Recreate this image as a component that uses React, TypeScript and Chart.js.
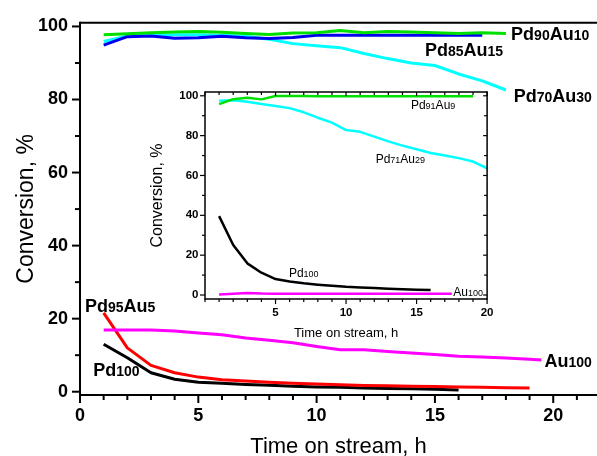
import { useEffect, useRef } from "react";
import { Chart, registerables } from "chart.js";

Chart.register(...registerables);

const FONT = "Arial, 'Liberation Sans', Helvetica, sans-serif";

const GREEN = "#00e000";
const BLUE = "#0000ee";
const CYAN = "#00ffff";
const RED = "#ff0000";
const MAGENTA = "#ff00ff";
const BLACK = "#000000";

// ---- main panel: conversion (%) vs time on stream (h) ----
const mainXTicks = [0, 5, 10, 15, 20];
const mainYTicks = [0, 20, 40, 60, 80, 100];

const pd90Au10Hours = [1, 2, 3, 4, 5, 6, 7, 8, 9, 10, 11, 12, 13, 14, 15, 16, 17, 18];
const pd90Au10Conv = [97.7, 98.0, 98.3, 98.5, 98.6, 98.4, 98.1, 97.8, 98.2, 98.3, 98.9, 98.3, 98.6, 98.5, 98.3, 98.1, 98.3, 98.1];

const pd85Au15Hours = [1, 2, 3, 4, 5, 6, 7, 8, 9, 10, 11, 12, 13, 14, 15, 16, 17];
const pd85Au15Conv = [94.9, 97.2, 97.4, 96.8, 96.9, 97.3, 96.9, 96.7, 97.0, 97.6, 97.6, 97.6, 97.6, 97.6, 97.6, 97.6, 97.6];

const pd70Au30Hours = [1, 2, 3, 4, 5, 6, 7, 8, 9, 10, 11, 12, 13, 14, 15, 16, 17, 18];
const pd70Au30Conv = [95.9, 97.4, 97.6, 97.7, 97.7, 97.6, 97.3, 96.5, 95.3, 94.7, 94.2, 92.6, 91.2, 90.0, 89.3, 87.0, 85.1, 82.6];

const pd95Au5Hours = [1, 2, 3, 4, 5, 6, 7, 8, 9, 10, 11, 12, 13, 14, 15, 16, 17, 18, 19];
const pd95Au5Conv = [21.6, 12.0, 7.2, 5.2, 4.0, 3.3, 2.9, 2.6, 2.3, 2.1, 1.9, 1.7, 1.6, 1.5, 1.4, 1.3, 1.2, 1.1, 1.0];

const pd100Hours = [1, 2, 3, 4, 5, 6, 7, 8, 9, 10, 11, 12, 13, 14, 15, 16];
const pd100Conv = [13.0, 9.3, 5.2, 3.4, 2.6, 2.3, 2.0, 1.8, 1.5, 1.3, 1.2, 1.0, 0.9, 0.8, 0.7, 0.5];

const au100Hours = [1, 2, 3, 4, 5, 6, 7, 8, 9, 10, 11, 12, 13, 14, 15, 16, 17, 18, 19, 19.5];
const au100Conv = [16.9, 16.9, 16.9, 16.6, 16.1, 15.6, 14.7, 14.1, 13.4, 12.4, 11.5, 11.5, 11.0, 10.6, 10.2, 9.7, 9.5, 9.2, 8.9, 8.7];

// ---- inset panel ----
const insetXTicks = [5, 10, 15, 20];
const insetYTicks = [0, 20, 40, 60, 80, 100];

const pd91Au9Hours = [1, 2, 3, 4, 5, 6, 7, 8, 9, 10, 11, 12, 13, 14, 15, 16, 17, 18, 19];
const pd91Au9Conv = [95.8, 98.3, 99.0, 98.2, 99.9, 99.9, 99.9, 99.8, 99.8, 99.8, 99.8, 99.8, 99.8, 99.8, 99.8, 99.8, 99.8, 99.8, 99.8];

const pd71Au29Hours = [1, 2, 3, 4, 5, 6, 7, 8, 9, 10, 11, 12, 13, 14, 15, 16, 17, 18, 19, 20];
const pd71Au29Conv = [97.5, 97.8, 97.0, 95.9, 94.9, 93.8, 91.7, 89.0, 86.5, 82.8, 81.9, 79.5, 77.1, 75.0, 73.2, 71.3, 70.0, 68.7, 67.0, 63.6];

const insetPd100Hours = [1, 2, 3, 4, 5, 6, 7, 8, 9, 10, 11, 12, 13, 14, 15, 16];
const insetPd100Conv = [39.6, 25.1, 15.9, 11.2, 8.0, 6.8, 5.9, 5.2, 4.6, 4.1, 3.8, 3.5, 3.2, 2.9, 2.7, 2.5];

const insetAu100Hours = [1, 2, 3, 4, 5, 6, 7, 8, 9, 10, 11, 12, 13, 14, 15, 16, 17, 17.5];
const insetAu100Conv = [0.3, 0.6, 1.0, 0.7, 0.6, 0.6, 0.6, 0.6, 0.6, 0.6, 0.6, 0.6, 0.6, 0.6, 0.6, 0.6, 0.6, 0.6];

type Series = { label: string; color: string; hours: number[]; values: number[] };

const mainSeries: Series[] = [
  { label: "Pd90Au10", color: GREEN, hours: pd90Au10Hours, values: pd90Au10Conv },
  { label: "Pd85Au15", color: BLUE, hours: pd85Au15Hours, values: pd85Au15Conv },
  { label: "Pd70Au30", color: CYAN, hours: pd70Au30Hours, values: pd70Au30Conv },
  { label: "Au100", color: MAGENTA, hours: au100Hours, values: au100Conv },
  { label: "Pd95Au5", color: RED, hours: pd95Au5Hours, values: pd95Au5Conv },
  { label: "Pd100", color: BLACK, hours: pd100Hours, values: pd100Conv },
];

const insetSeries: Series[] = [
  { label: "Pd91Au9", color: GREEN, hours: pd91Au9Hours, values: pd91Au9Conv },
  { label: "Pd71Au29", color: CYAN, hours: pd71Au29Hours, values: pd71Au29Conv },
  { label: "Au100", color: MAGENTA, hours: insetAu100Hours, values: insetAu100Conv },
  { label: "Pd100", color: BLACK, hours: insetPd100Hours, values: insetPd100Conv },
];

// Series name annotations, anchored in data units (left edge, text baseline)
const mainNotes = [
  { text: "Pd90Au10", x: 18.22, y: 96.2 },
  { text: "Pd85Au15", x: 14.58, y: 91.8 },
  { text: "Pd70Au30", x: 18.33, y: 79.3 },
  { text: "Pd95Au5", x: 0.21, y: 21.9 },
  { text: "Pd100", x: 0.56, y: 4.2 },
  { text: "Au100", x: 19.63, y: 6.9 },
];

const insetNotes = [
  { text: "Pd91Au9", x: 14.6, y: 93.2 },
  { text: "Pd71Au29", x: 12.1, y: 66.4 },
  { text: "Pd100", x: 5.95, y: 9.2 },
  { text: "Au100", x: 17.6, y: -0.5 },
];

const toPoints = (hours: number[], values: number[]) =>
  hours.map((h, i) => ({ x: h, y: values[i] }));

// Axis frame plus major / minor tick marks
const framePlugin = {
  id: "frame",
  afterDraw(chart: any, _args: any, o: any) {
    const { ctx, chartArea } = chart;
    const { left, right, top, bottom } = chartArea;
    const xs = chart.scales.x;
    const ys = chart.scales.y;
    ctx.save();
    ctx.strokeStyle = "#000";
    ctx.lineCap = "butt";

    ctx.lineWidth = o.tickWidth;
    const seg = (x1: number, y1: number, x2: number, y2: number) => {
      ctx.beginPath();
      ctx.moveTo(x1, y1);
      ctx.lineTo(x2, y2);
      ctx.stroke();
    };
    const xMajor: number[] = o.xMajor;
    const yMajor: number[] = o.yMajor;
    for (let v = Math.ceil(xs.min); v <= xs.max + 1e-9; v += o.xMinorStep) {
      const p = xs.getPixelForValue(v);
      const len = xMajor.includes(v) ? o.majorLen : o.minorLen;
      seg(p, bottom, p, bottom + len);
      if (o.mirror) seg(p, top, p, top + (xMajor.includes(v) ? o.mirrorMajorLen : o.mirrorMinorLen));
    }
    for (let v = Math.ceil(ys.min / o.yMinorStep) * o.yMinorStep; v <= ys.max + 1e-9; v += o.yMinorStep) {
      const p = ys.getPixelForValue(v);
      const len = yMajor.includes(v) ? o.majorLen : o.minorLen;
      seg(left - len, p, left, p);
      if (o.mirror) seg(right - (yMajor.includes(v) ? o.mirrorMajorLen : o.mirrorMinorLen), p, right, p);
    }

    ctx.lineWidth = o.lineWidth;
    seg(left, top - o.lineWidth / 2, left, bottom + o.lineWidth / 2);
    seg(left, bottom, right, bottom);
    seg(left, top, right, top);
    if (o.box) seg(right, top - o.lineWidth / 2, right, bottom + o.lineWidth / 2);
    ctx.restore();
  },
};

// Axis titles
const titlesPlugin = {
  id: "axisTitles",
  afterDraw(chart: any, _args: any, o: any) {
    const { ctx, chartArea } = chart;
    const cx = (chartArea.left + chartArea.right) / 2;
    const cy = (chartArea.top + chartArea.bottom) / 2;
    ctx.save();
    ctx.fillStyle = "#000";
    ctx.textBaseline = "alphabetic";
    ctx.textAlign = "center";
    ctx.font = `${o.xSize}px ${FONT}`;
    ctx.fillText(o.xText, cx, o.xBaseline);
    ctx.translate(o.yBaseline, cy);
    ctx.rotate(-Math.PI / 2);
    ctx.font = `${o.ySize}px ${FONT}`;
    ctx.fillText(o.yText, 0, 0);
    ctx.restore();
  },
};

// Series names with subscripted digits
const notesPlugin = {
  id: "seriesNotes",
  afterDatasetsDraw(chart: any, _args: any, o: any) {
    const { ctx } = chart;
    const xs = chart.scales.x;
    const ys = chart.scales.y;
    ctx.save();
    ctx.fillStyle = "#000";
    ctx.textBaseline = "alphabetic";
    ctx.textAlign = "left";
    for (const n of o.notes) {
      let px = xs.getPixelForValue(n.x);
      const py = ys.getPixelForValue(n.y);
      const runs: string[] = n.text.match(/\d+|[^\d]+/g) || [];
      for (const r of runs) {
        const sub = /^\d+$/.test(r);
        ctx.font = `${o.weight} ${sub ? o.subSize : o.size}px ${FONT}`;
        ctx.fillText(r, px, py + (sub ? o.subShift : 0));
        px += ctx.measureText(r).width;
      }
    }
    ctx.restore();
  },
};

function makeConfig(p: {
  series: Series[];
  lineWidth: number;
  xMin: number; xMax: number; yMin: number; yMax: number;
  xTicks: number[]; yTicks: number[];
  tickSize: number; xPad: number; yPad: number;
  yAxisWidth: number; xAxisHeight: number;
  padding: { left: number; top: number; right: number; bottom: number };
  frame: any; titles: any; notes: any;
}): any {
  const tickFont = { family: FONT, size: p.tickSize, weight: "bold" as const, lineHeight: 1.2 };
  return {
    type: "line",
    data: {
      datasets: p.series.map((s) => ({
        label: s.label,
        data: toPoints(s.hours, s.values),
        borderColor: s.color,
        backgroundColor: s.color,
        borderWidth: p.lineWidth,
        borderJoinStyle: "round",
        pointRadius: 0,
        fill: false,
        tension: 0,
      })),
    },
    options: {
      animation: false,
      responsive: false,
      devicePixelRatio: 1,
      layout: { padding: p.padding },
      plugins: {
        legend: { display: false },
        tooltip: { enabled: false },
        frame: p.frame,
        axisTitles: p.titles,
        seriesNotes: p.notes,
      },
      scales: {
        x: {
          type: "linear",
          min: p.xMin,
          max: p.xMax,
          grid: { display: false, drawTicks: false, tickLength: 0 },
          border: { display: false },
          ticks: { font: tickFont, color: "#000", padding: p.xPad, maxRotation: 0, autoSkip: false },
          afterBuildTicks: (axis: any) => {
            axis.ticks = p.xTicks.map((v) => ({ value: v }));
          },
          afterFit: (axis: any) => {
            axis.height = p.xAxisHeight;
          },
        },
        y: {
          type: "linear",
          min: p.yMin,
          max: p.yMax,
          grid: { display: false, drawTicks: false, tickLength: 0 },
          border: { display: false },
          ticks: { font: tickFont, color: "#000", padding: p.yPad, autoSkip: false },
          afterBuildTicks: (axis: any) => {
            axis.ticks = p.yTicks.map((v) => ({ value: v }));
          },
          afterFit: (axis: any) => {
            axis.width = p.yAxisWidth;
          },
        },
      },
    },
    plugins: [framePlugin, titlesPlugin, notesPlugin],
  };
}

function ChartCanvas({ width, height, config, style }: { width: number; height: number; config: () => any; style: any }) {
  const ref = useRef<HTMLCanvasElement | null>(null);
  useEffect(() => {
    const chart = new Chart(ref.current as HTMLCanvasElement, config());
    return () => chart.destroy();
  }, []);
  return <canvas ref={ref} width={width} height={height} style={{ position: "absolute", ...style }} />;
}

const mainConfig = () =>
  makeConfig({
    series: mainSeries,
    lineWidth: 3,
    xMin: 0, xMax: 21.85, yMin: -0.9, yMax: 101,
    xTicks: mainXTicks, yTicks: mainYTicks,
    tickSize: 18, xPad: 10, yPad: 12,
    yAxisWidth: 80, xAxisHeight: 61,
    padding: { left: 0, top: 18, right: 0, bottom: 0 },
    frame: {
      lineWidth: 2, tickWidth: 2, majorLen: 8, minorLen: 5,
      xMajor: mainXTicks, yMajor: mainYTicks, xMinorStep: 1, yMinorStep: 10,
      mirror: false, box: false,
    },
    titles: { xText: "Time on stream, h", xSize: 22, xBaseline: 453, yText: "Conversion, %", ySize: 23, yBaseline: 33 },
    notes: { notes: mainNotes, size: 18, subSize: 14, subShift: 0, weight: "bold" },
  });

const insetConfig = () =>
  makeConfig({
    series: insetSeries,
    lineWidth: 2.5,
    xMin: 0, xMax: 20, yMin: -2, yMax: 101.9,
    xTicks: insetXTicks, yTicks: insetYTicks,
    tickSize: 11.5, xPad: 6.5, yPad: 6.5,
    yAxisWidth: 65, xAxisHeight: 41,
    padding: { left: 0, top: 14, right: 12, bottom: 0 },
    frame: {
      lineWidth: 1.5, tickWidth: 1.2, majorLen: 5, minorLen: 3,
      mirrorMajorLen: 4, mirrorMinorLen: 3,
      xMajor: insetXTicks, yMajor: insetYTicks, xMinorStep: 1, yMinorStep: 10,
      mirror: true, box: true,
    },
    titles: { xText: "Time on stream, h", xSize: 13, xBaseline: 259, yText: "Conversion, %", ySize: 16, yBaseline: 22 },
    notes: { notes: insetNotes, size: 12, subSize: 9, subShift: 0, weight: "normal" },
  });

export default function App() {
  return (
    <div style={{ position: "absolute", left: 0, top: 0, width: 597, height: 456, background: "#fff", overflow: "hidden" }}>
      <ChartCanvas width={597} height={456} config={mainConfig} style={{ left: 0, top: 0 }} />
      <ChartCanvas width={360} height={262} config={insetConfig} style={{ left: 140, top: 78 }} />
    </div>
  );
}
